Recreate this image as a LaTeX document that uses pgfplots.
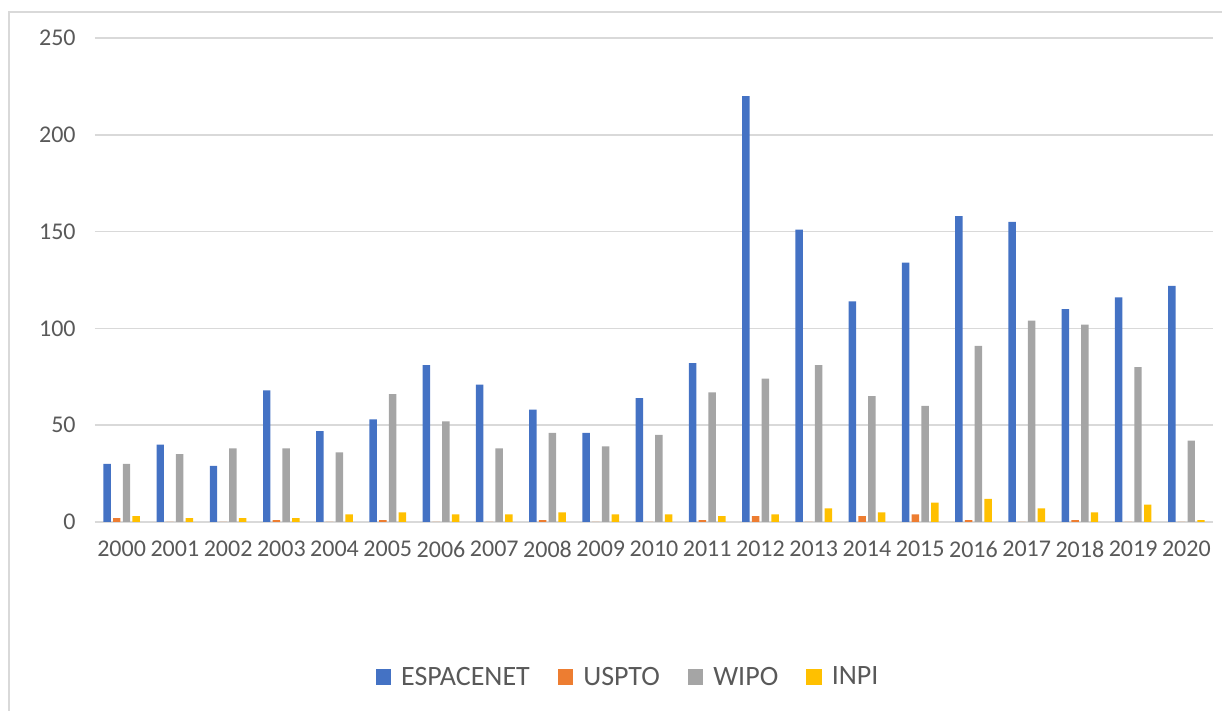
\documentclass[border=0pt]{standalone}
\usepackage{pgfplots}
\pgfplotsset{compat=1.18}
\usepackage{pgfplotstable}
\usepackage{fontspec}
\setmainfont{Carlito}
\definecolor{cEsp}{HTML}{4472C4}
\definecolor{cUsp}{HTML}{ED7D31}
\definecolor{cWip}{HTML}{A5A5A5}
\definecolor{cInp}{HTML}{FFC000}
\definecolor{gridgray}{HTML}{D9D9D9}
\definecolor{textgray}{HTML}{595959}
\pgfplotstableread{
x year esp usp wip inp
0 2000 30 2 30 3
1 2001 40 0 35 2
2 2002 29 0 38 2
3 2003 68 1 38 2
4 2004 47 0 36 4
5 2005 53 1 66 5
6 2006 81 0 52 4
7 2007 71 0 38 4
8 2008 58 1 46 5
9 2009 46 0 39 4
10 2010 64 0 45 4
11 2011 82 1 67 3
12 2012 220 3 74 4
13 2013 151 0 81 7
14 2014 114 3 65 5
15 2015 134 4 60 10
16 2016 158 1 91 12
17 2017 155 0 104 7
18 2018 110 1 102 5
19 2019 116 0 80 9
20 2020 122 0 42 1
}\datatable
\begin{document}
\begin{tikzpicture}
\useasboundingbox (0,0) rectangle (916.5pt,533.25pt);
\draw[gridgray, line width=1.1pt] (6.75pt,0) -- (6.75pt,524.25pt) -- (916.5pt,524.25pt);
\begin{axis}[
  at={(71.25pt,141.75pt)}, anchor=south west,
  scale only axis, width=838.5pt, height=363pt,
  ybar=1.7pt, bar width=5.6pt,
  xmin=-0.5, xmax=20.5, ymin=0, ymax=250,
  ytick={0,50,...,250},
  xtick=data,
  xticklabels={2000,2001,2002,2003,2004,2005,2006,2007,2008,2009,2010,2011,2012,2013,2014,2015,2016,2017,2018,2019,2020},
  /pgf/number format/assume math mode=true,
  axis line style={draw=none},
  major tick length=0pt,
  ymajorgrids,
  major grid style={draw=gridgray, line width=1.1pt},
  extra y ticks={0}, extra y tick labels={},
  extra y tick style={grid style={draw=gridgray, line width=1.6pt}},
  tick label style={font=\fontsize{18}{20}\selectfont, text=textgray},
  yticklabel style={xshift=-11pt},
  xticklabel style={yshift=-11pt},
  legend columns=4,
  legend style={draw=none, fill=none,
    at={(0.4759,-0.3202)}, anchor=center,
    font=\fontsize{21}{23}\selectfont, text=textgray,
    nodes={inner sep=0pt},
    /tikz/every even column/.append style={column sep=21pt},
    /tikz/every odd column/.append style={column sep=7.5pt}},
  legend image code/.code={\fill[#1] (0pt,-5.8pt) rectangle (11.6pt,5.8pt);},
]
\addplot[fill=cEsp, draw=none] table[x=x, y=esp] {\datatable};
\addplot[fill=cUsp, draw=none] table[x=x, y=usp] {\datatable};
\addplot[fill=cWip, draw=none] table[x=x, y=wip] {\datatable};
\addplot[fill=cInp, draw=none] table[x=x, y=inp] {\datatable};
\legend{ESPACENET,USPTO,WIPO,INPI}
\end{axis}
\end{tikzpicture}
\end{document}
